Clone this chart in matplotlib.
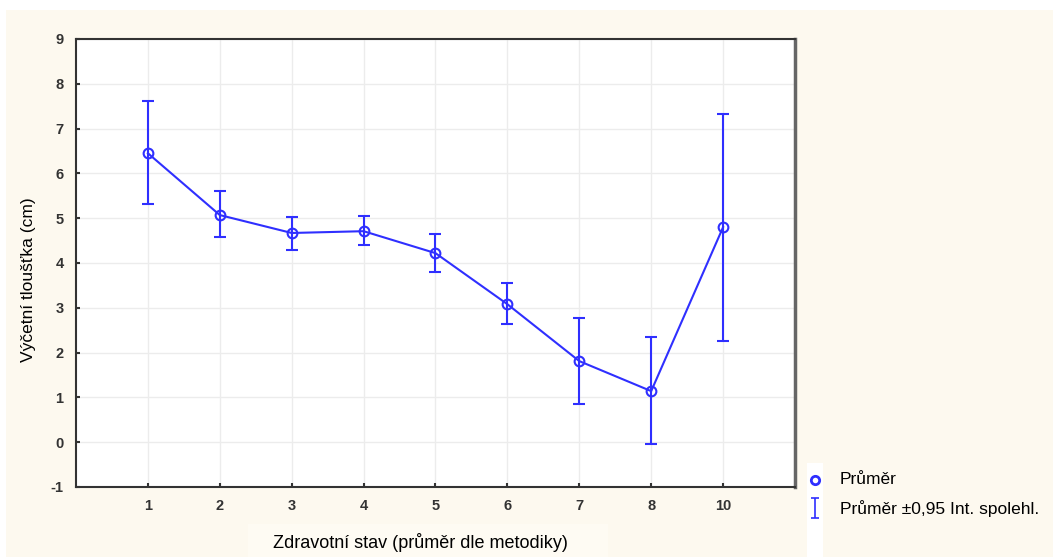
import matplotlib.pyplot as plt
import numpy as np
from matplotlib.patches import Rectangle

plt.rcParams['font.family'] = ['Liberation Sans', 'DejaVu Sans']
plt.rcParams['axes.unicode_minus'] = False

# Mean thickness by health category with 95% confidence interval bounds
categories = ['1', '2', '3', '4', '5', '6', '7', '8', '10']
mean = [6.45, 5.07, 4.67, 4.71, 4.22, 3.08, 1.81, 1.14, 4.80]
ci_low = [5.31, 4.58, 4.29, 4.40, 3.79, 2.63, 0.85, -0.04, 2.25]
ci_high = [7.61, 5.60, 5.02, 5.04, 4.64, 3.55, 2.77, 2.34, 7.32]
yticks = [-1, 0, 1, 2, 3, 4, 5, 6, 7, 8, 9]

blue = '#2f2fff'
bg = '#fdf9ef'
W, H = 1053, 557

fig = plt.figure(figsize=(W / 100, H / 100), dpi=100)
fig.patch.set_facecolor('white')
fig.add_artist(Rectangle((6 / W, 0), 1 - 6 / W, 1 - 10 / H, transform=fig.transFigure,
                         facecolor=bg, edgecolor='none', zorder=-10))
fig.add_artist(Rectangle((248 / W, 0), 360 / W, 33 / H, transform=fig.transFigure,
                         facecolor='#fefbf3', edgecolor='none', zorder=-9))

ax = fig.add_axes([76 / W, (H - 487) / H, (795 - 76) / W, (487 - 39) / H])
ax.set_facecolor('white')

x = np.arange(1, len(categories) + 1)
m = np.array(mean)
yerr = [m - np.array(ci_low), np.array(ci_high) - m]
ax.errorbar(x, m, yerr=yerr, fmt='-o', color=blue, lw=1.5, elinewidth=1.5,
            capsize=4, capthick=1.5, markersize=7, mfc='none', mec=blue, mew=1.5)

ax.set_xlim(0, 10)
ax.set_ylim(-1, 9)
ax.set_xticks(x)
ax.set_xticklabels(categories)
ax.set_yticks(yticks)
ax.grid(True, color='#ececec', lw=1)
ax.set_axisbelow(True)
ax.tick_params(direction='in', length=3, width=1.5, color='#333333',
               labelsize=10.5, labelcolor='#333333', pad=9)
for lbl in ax.get_xticklabels() + ax.get_yticklabels():
    lbl.set_fontweight('bold')
for side in ['top', 'left', 'bottom']:
    ax.spines[side].set_color('#333333')
    ax.spines[side].set_linewidth(1.5)
ax.spines['right'].set_color('#666666')
ax.spines['right'].set_linewidth(2.5)

fig.text(420 / W, 1 - 543 / H, 'Zdravotní stav (průměr dle metodiky)',
         fontsize=13, ha='center', va='center')
fig.text(29 / W, 1 - 280 / H, 'Výčetní tloušťka (cm)', fontsize=12.5,
         rotation=90, ha='center', va='center')

# legend drawn in a small strip to the right of the plot
lax = fig.add_axes([807 / W, 0, 16 / W, (H - 463) / H])
lax.set_facecolor('white')
lax.set_xlim(0, 1)
lax.set_ylim(H, 463)
lax.axis('off')
lax.add_patch(Rectangle((0, 463), 1, H - 463, facecolor='white', edgecolor='none'))
lax.plot([0.5], [480], marker='o', markersize=6, mfc='none', mec=blue, mew=2)
lax.errorbar([0.5], [508], yerr=[[10], [10]], fmt='none', ecolor=blue,
             elinewidth=1.2, capsize=3, capthick=1.2)
fig.text(840 / W, 1 - 480 / H, 'Průměr', fontsize=12.5, va='center', ha='left')
fig.text(840 / W, 1 - 509 / H, 'Průměr ±0,95 Int. spolehl.', fontsize=12.5,
         va='center', ha='left')

fig.savefig('out.png', dpi=100, facecolor=fig.get_facecolor())
